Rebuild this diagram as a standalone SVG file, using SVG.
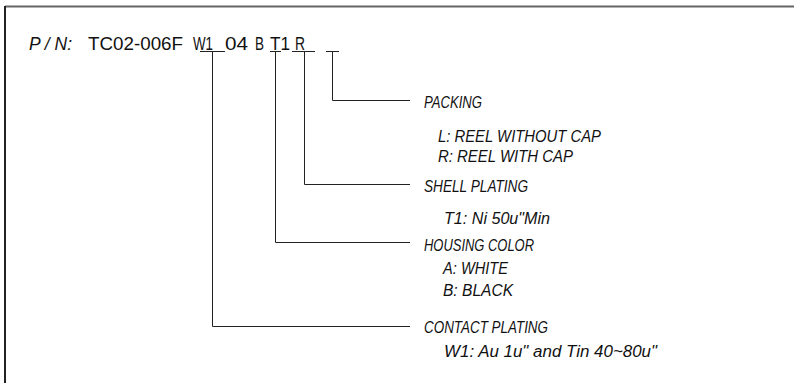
<svg xmlns="http://www.w3.org/2000/svg" width="794" height="383" viewBox="0 0 794 383">
<style>
.t{font-family:"Liberation Sans",Arial,sans-serif;fill:#111;}
.pn{font-size:18px;}
.it{font-style:italic;}
.lb{font-size:16px;font-style:italic;}
.cn{fill:none;stroke:#222;stroke-width:1;}
</style>
<rect x="0" y="0" width="794" height="383" fill="#fff"/>
<g id="frame">
<line x1="5" y1="6.5" x2="794" y2="6.5" stroke="#666" stroke-width="2"/>
<line x1="5" y1="6" x2="5" y2="383" stroke="#222" stroke-width="2"/>
</g>
<g id="part-number">
<text class="t pn it" x="29" y="50" textLength="43" lengthAdjust="spacingAndGlyphs">P / N:</text>
<text class="t pn" x="88" y="50" textLength="95" lengthAdjust="spacingAndGlyphs">TC02-006F</text>
<text class="t pn" x="193" y="50" textLength="20" lengthAdjust="spacingAndGlyphs">W1</text>
<text class="t pn" x="225" y="50" textLength="23" lengthAdjust="spacingAndGlyphs">04</text>
<text class="t pn" x="255" y="50" textLength="9" lengthAdjust="spacingAndGlyphs">B</text>
<text class="t pn" x="270" y="50" textLength="20" lengthAdjust="spacingAndGlyphs">T1</text>
<text class="t pn" x="295" y="50" textLength="10" lengthAdjust="spacingAndGlyphs">R</text>
</g>
<g id="connectors" class="cn">
<path d="M200,51.5 H225 M212.5,51.5 V326.5 H410"/>
<path d="M270,51.5 H281 M275.5,51.5 V242.5 H410"/>
<path d="M292,51.5 H315 M304.5,51.5 V184.5 H410"/>
<path d="M326,51.5 H339 M332.5,51.5 V100.5 H410"/>
</g>
<g id="packing">
<text class="t lb" x="424" y="107.5" textLength="58" lengthAdjust="spacingAndGlyphs">PACKING</text>
<text class="t lb" x="438" y="141.5" textLength="163" lengthAdjust="spacingAndGlyphs">L: REEL WITHOUT CAP</text>
<text class="t lb" x="438" y="161.5" textLength="135" lengthAdjust="spacingAndGlyphs">R: REEL WITH CAP</text>
</g>
<g id="shell-plating">
<text class="t lb" x="424" y="192" textLength="104" lengthAdjust="spacingAndGlyphs">SHELL PLATING</text>
<text class="t lb" x="444" y="224" textLength="106" lengthAdjust="spacingAndGlyphs">T1: Ni 50u"Min</text>
</g>
<g id="housing-color">
<text class="t lb" x="424" y="250.5" textLength="110" lengthAdjust="spacingAndGlyphs">HOUSING COLOR</text>
<text class="t lb" x="443" y="274" textLength="65" lengthAdjust="spacingAndGlyphs">A: WHITE</text>
<text class="t lb" x="443" y="296" textLength="70" lengthAdjust="spacingAndGlyphs">B: BLACK</text>
</g>
<g id="contact-plating">
<text class="t lb" x="424" y="333" textLength="124" lengthAdjust="spacingAndGlyphs">CONTACT PLATING</text>
<text class="t lb" x="444" y="357" textLength="213" lengthAdjust="spacingAndGlyphs">W1: Au 1u" and Tin 40~80u"</text>
</g>
</svg>
